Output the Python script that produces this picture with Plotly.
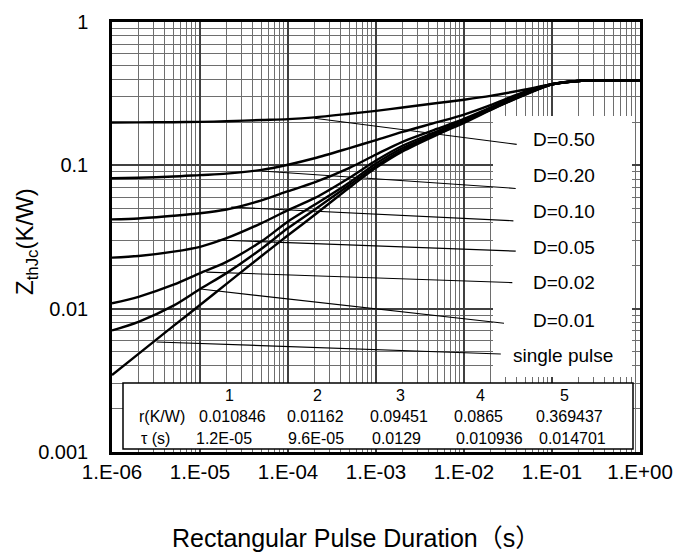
import numpy as np
import plotly.graph_objects as go

# ---------------- data ----------------
t = [1e-6, 2e-6, 5e-6, 1e-5, 2e-5, 5e-5, 1e-4, 2e-4, 5e-4, 1e-3, 2e-3, 5e-3,
     1e-2, 2e-2, 5e-2, 1e-1, 2e-1, 3e-1, 1.0]

z_d050 = [0.199, 0.1995, 0.200, 0.201, 0.203, 0.207, 0.210, 0.216, 0.229, 0.240,
          0.253, 0.272, 0.287, 0.305, 0.338, 0.368, 0.388, 0.392, 0.392]
z_d020 = [0.0813, 0.0820, 0.0835, 0.0855, 0.0875, 0.0930, 0.101, 0.112, 0.132, 0.150,
          0.171, 0.200, 0.226, 0.263, 0.328, 0.368, 0.388, 0.392, 0.392]
z_d010 = [0.0420, 0.0426, 0.0445, 0.0463, 0.0492, 0.0570, 0.0660, 0.076, 0.096, 0.119,
          0.146, 0.180, 0.211, 0.253, 0.322, 0.368, 0.388, 0.392, 0.392]
z_d005 = [0.0227, 0.0233, 0.0250, 0.0270, 0.0310, 0.0395, 0.0487, 0.059, 0.082, 0.108,
          0.137, 0.173, 0.207, 0.250, 0.318, 0.368, 0.388, 0.392, 0.392]
z_d002 = [0.0109, 0.0121, 0.0147, 0.0177, 0.0212, 0.0295, 0.0406, 0.053, 0.076, 0.103,
          0.132, 0.169, 0.204, 0.247, 0.315, 0.368, 0.388, 0.392, 0.392]
z_d001 = [0.00705, 0.0081, 0.0105, 0.0137, 0.0177, 0.0262, 0.0365, 0.049, 0.073, 0.099,
          0.128, 0.166, 0.201, 0.245, 0.313, 0.368, 0.388, 0.392, 0.392]
z_single = [0.00344, 0.00484, 0.00758, 0.0106, 0.0149, 0.0233, 0.0325, 0.045, 0.070, 0.096,
            0.125, 0.164, 0.198, 0.243, 0.311, 0.368, 0.388, 0.392, 0.392]

curve_names = ["D=0.50", "D=0.20", "D=0.10", "D=0.05", "D=0.02", "D=0.01", "single pulse"]
curve_values = [z_d050, z_d020, z_d010, z_d005, z_d002, z_d001, z_single]

# leader lines: start on the curve, end next to the label
leader_start_t = [2.0e-4, 5.0e-5, 2.27e-5, 1.58e-5, 1.18e-5, 1.01e-5, 3.2e-6]
leader_start_z = [0.213, 0.0912, 0.0511, 0.0301, 0.0180, 0.0137, 0.00586]
leader_end_t = [0.0397, 0.0387, 0.0364, 0.0387, 0.0354, 0.0285, 0.0262]
leader_end_z = [0.1400, 0.0690, 0.0410, 0.0252, 0.0152, 0.00791, 0.00483]
label_t = [0.0573, 0.0573, 0.0573, 0.0573, 0.0573, 0.0573, 0.0340]
label_z = [0.1515, 0.0845, 0.0474, 0.0268, 0.0152, 0.00824, 0.00468]

# axis ticks
x_tickvals = [1e-6, 1e-5, 1e-4, 1e-3, 1e-2, 1e-1, 1.0]
x_ticktext = ["1.E-06", "1.E-05", "1.E-04", "1.E-03", "1.E-02", "1.E-01", "1.E+00"]
y_tickvals = [0.001, 0.01, 0.1, 1.0]
y_ticktext = ["0.001", "0.01", "0.1", "1"]

# thermal model table
table_header = ["1", "2", "3", "4", "5"]
table_rows = ["r(K/W)", "τ (s)"]
r_values = ["0.010846", "0.01162", "0.09451", "0.0865", "0.369437"]
tau_values = ["1.2E-05", "9.6E-05", "0.0129", "0.010936", "0.014701"]

# ---------------- layout geometry (screen pixels; page body has an 8px margin) ----------------
OFF = 8
W, H = 693 - OFF, 552 - OFF
SX0, SX1, SY0, SY1 = 112, 640, 22, 452          # plot area on screen
ML, MT = SX0 - OFF, SY0 - OFF
MR, MB = W - (SX1 - OFF), H - (SY1 - OFF)
PW, PH = SX1 - SX0, SY1 - SY0


def px_x(px):
    return (px - SX0) / PW


def px_y(py):
    return (SY1 - py) / PH


FONT = "Liberation Sans, Arial, Noto Sans CJK SC, sans-serif"

fig = go.Figure()

for name, z in zip(curve_names, curve_values):
    fig.add_trace(go.Scatter(x=t, y=z, mode="lines", name=name,
                             line=dict(color="black", width=2.4, shape="spline", smoothing=0.8),
                             hoverinfo="skip", showlegend=False))

annotations = []
for i, name in enumerate(curve_names):
    annotations.append(dict(x=float(np.log10(label_t[i])), y=float(np.log10(label_z[i])),
                            xref="x", yref="y", text=name, showarrow=False,
                            xanchor="left", yanchor="middle",
                            font=dict(family=FONT, size=19, color="black")))

# table text
header_px = [229, 317.4, 400.2, 480.1, 564]
r_px = [232.4, 315, 399.3, 478.7, 569.7]
tau_px = [224.4, 315.5, 396.6, 489.8, 572.8]
row_y = [395, 416.5, 438]
for i in range(5):
    for txt, xs, ry in ((table_header[i], header_px, row_y[0]),
                        (r_values[i], r_px, row_y[1]),
                        (tau_values[i], tau_px, row_y[2])):
        annotations.append(dict(x=px_x(xs[i]), y=px_y(ry), xref="paper", yref="paper",
                                text=txt, showarrow=False, xanchor="center", yanchor="middle",
                                font=dict(family=FONT, size=16, color="black")))
for lab, cx, ry in zip(table_rows, [162, 155], row_y[1:]):
    annotations.append(dict(x=px_x(cx), y=px_y(ry), xref="paper", yref="paper",
                            text=lab, showarrow=False, xanchor="center", yanchor="middle",
                            font=dict(family=FONT, size=16, color="black")))

# axis titles
annotations.append(dict(x=px_x(356), y=px_y(538), xref="paper", yref="paper",
                        text="Rectangular Pulse Duration（s）", showarrow=False,
                        xanchor="center", yanchor="middle",
                        font=dict(family=FONT, size=25, color="black")))
annotations.append(dict(x=px_x(26), y=px_y(242), xref="paper", yref="paper",
                        text="Z<sub>thJc</sub>(K/W)", showarrow=False, textangle=-90,
                        xanchor="center", yanchor="middle",
                        font=dict(family=FONT, size=24, color="black")))

shapes = [
    # white box behind the curve labels (hides the grid)
    dict(type="rect", xref="paper", yref="paper", layer="above",
         x0=px_x(493), x1=px_x(632), y0=px_y(377), y1=px_y(116),
         fillcolor="white", line=dict(width=0)),
    # table box
    dict(type="rect", xref="paper", yref="paper", layer="above",
         x0=px_x(123), x1=px_x(633), y0=px_y(449), y1=px_y(383),
         fillcolor="white", line=dict(color="black", width=1.5)),
]
# leader lines (shapes on log axes take data values)
for i in range(len(curve_names)):
    shapes.append(dict(type="line", xref="x", yref="y", layer="above",
                       x0=leader_start_t[i], y0=leader_start_z[i],
                       x1=leader_end_t[i], y1=leader_end_z[i],
                       line=dict(color="black", width=1.1)))

x_minor = [m * 10.0 ** e for e in range(-6, 0) for m in range(2, 10)]
y_minor = [m * 10.0 ** e for e in range(-3, 0) for m in range(2, 10)]

fig.update_layout(
    width=W, height=H,
    margin=dict(l=ML, r=MR, t=MT, b=MB, autoexpand=False),
    paper_bgcolor="white", plot_bgcolor="white",
    font=dict(family=FONT, size=20, color="black"),
    annotations=annotations, shapes=shapes,
    xaxis=dict(type="log", range=[-6, 0], tickmode="array", tickvals=x_tickvals,
               ticktext=x_ticktext, ticks="", showline=True, linecolor="black",
               linewidth=2.5, mirror=True, zeroline=False,
               showgrid=True, gridcolor="#404040", gridwidth=2,
               tickfont=dict(family=FONT, size=20.5, color="black"),
               ticklabelstandoff=0,
               minor=dict(tickmode="array", tickvals=x_minor, showgrid=True,
                          gridcolor="#6e6e6e", gridwidth=1, ticks="")),
    yaxis=dict(type="log", range=[-3, 0], tickmode="array", tickvals=y_tickvals,
               ticktext=y_ticktext, ticks="", showline=True, linecolor="black",
               linewidth=2.5, mirror=True, zeroline=False,
               showgrid=True, gridcolor="#404040", gridwidth=2,
               tickfont=dict(family=FONT, size=20, color="black"),
               ticklabelstandoff=17,
               minor=dict(tickmode="array", tickvals=y_minor, showgrid=True,
                          gridcolor="#6e6e6e", gridwidth=1, ticks="")),
)

fig.write_html("out.html")
